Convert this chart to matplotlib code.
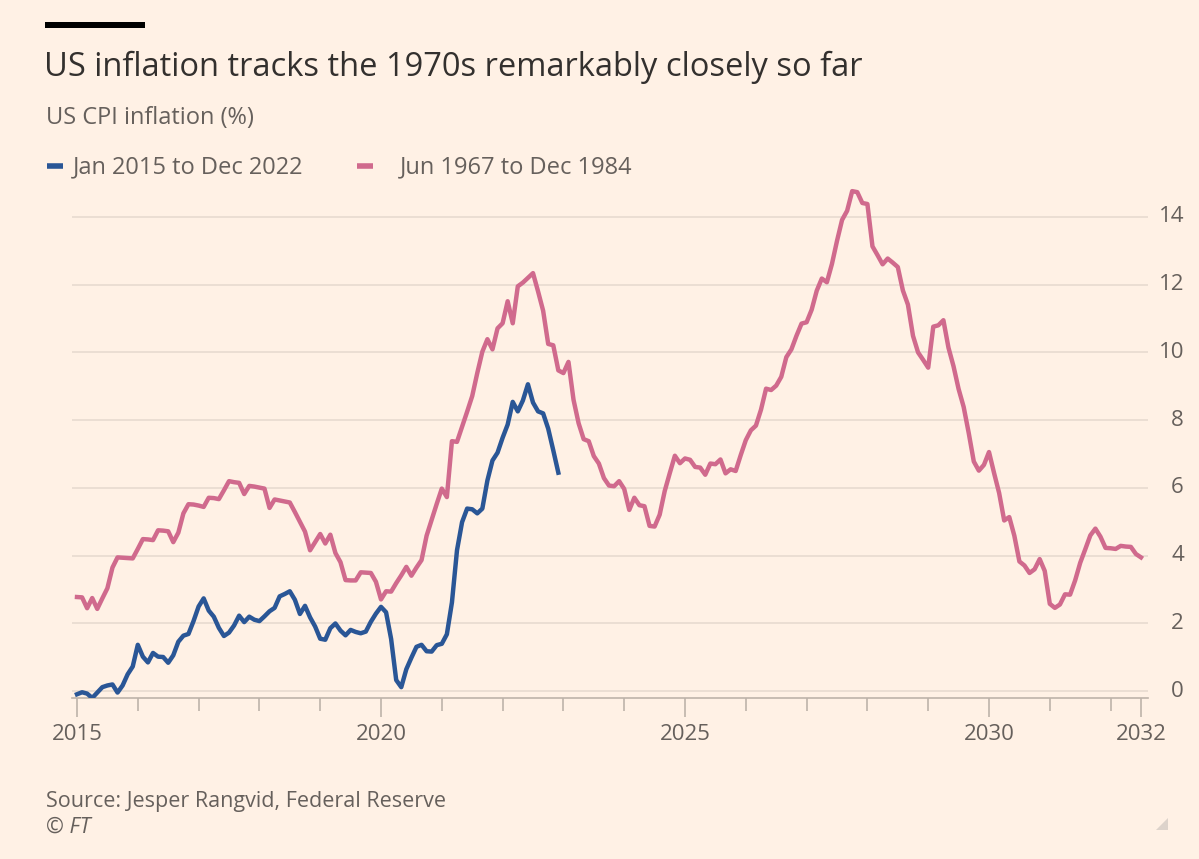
import numpy as np
import matplotlib.pyplot as plt
from matplotlib.patches import Rectangle, Polygon
from matplotlib.lines import Line2D
from matplotlib.ticker import FixedLocator

# US CPI inflation, year-on-year (%), monthly

# Jan 2015 to Dec 2022
cpi_2015_2022 = [
    -0.09, -0.03, -0.07, -0.20, -0.04, 0.12, 0.17, 0.20, -0.04, 0.17, 0.50, 0.73,   # 2015
    1.37, 1.02, 0.85, 1.13, 1.02, 1.01, 0.84, 1.06, 1.46, 1.64, 1.69, 2.07,         # 2016
    2.50, 2.74, 2.38, 2.20, 1.87, 1.63, 1.73, 1.94, 2.23, 2.04, 2.20, 2.11,         # 2017
    2.07, 2.21, 2.36, 2.46, 2.80, 2.87, 2.95, 2.70, 2.28, 2.52, 2.18, 1.91,         # 2018
    1.55, 1.52, 1.86, 2.00, 1.79, 1.65, 1.81, 1.75, 1.71, 1.76, 2.05, 2.29,         # 2019
    2.49, 2.33, 1.54, 0.33, 0.12, 0.65, 0.99, 1.31, 1.37, 1.18, 1.17, 1.36,         # 2020
    1.40, 1.68, 2.62, 4.16, 4.99, 5.39, 5.37, 5.25, 5.39, 6.22, 6.81, 7.04,         # 2021
    7.48, 7.87, 8.54, 8.26, 8.58, 9.06, 8.52, 8.26, 8.20, 7.75, 7.11, 6.45,         # 2022
]

# Jun 1967 to Dec 1984, overlaid from Jan 2015
cpi_1967_1984 = [
    2.78, 2.77, 2.45, 2.75, 2.43, 2.74, 3.04,                                       # 1967 (Jun-Dec)
    3.65, 3.95, 3.94, 3.93, 3.92, 4.20, 4.49, 4.48, 4.46, 4.75, 4.74, 4.72,         # 1968
    4.40, 4.68, 5.25, 5.52, 5.51, 5.48, 5.44, 5.71, 5.70, 5.67, 5.93, 6.20,         # 1969
    6.17, 6.15, 5.82, 6.06, 6.04, 6.01, 5.98, 5.41, 5.66, 5.63, 5.60, 5.57,         # 1970
    5.29, 5.00, 4.71, 4.16, 4.40, 4.64, 4.36, 4.62, 4.08, 3.81, 3.28, 3.27,         # 1971
    3.27, 3.51, 3.50, 3.49, 3.23, 2.71, 2.95, 2.94, 3.19, 3.42, 3.67, 3.41,         # 1972
    3.65, 3.87, 4.59, 5.06, 5.53, 5.98, 5.73, 7.38, 7.36, 7.80, 8.25, 8.71,         # 1973
    9.39, 10.02, 10.39, 10.09, 10.71, 10.86, 11.51, 10.86, 11.95, 12.06, 12.20, 12.34,  # 1974
    11.80, 11.23, 10.25, 10.21, 9.47, 9.39, 9.72, 8.60, 7.91, 7.44, 7.38, 6.94,     # 1975
    6.72, 6.29, 6.07, 6.05, 6.20, 5.97, 5.35, 5.71, 5.49, 5.46, 4.88, 4.86,         # 1976
    5.21, 5.91, 6.44, 6.95, 6.73, 6.87, 6.83, 6.62, 6.60, 6.39, 6.72, 6.70,         # 1977
    6.84, 6.43, 6.55, 6.50, 6.97, 7.41, 7.70, 7.84, 8.31, 8.93, 8.89, 9.02,         # 1978
    9.28, 9.86, 10.09, 10.49, 10.85, 10.89, 11.26, 11.82, 12.18, 12.07, 12.61, 13.29,  # 1979
    13.91, 14.18, 14.76, 14.73, 14.41, 14.38, 13.13, 12.87, 12.60, 12.77, 12.65, 12.52,  # 1980
    11.83, 11.41, 10.49, 10.00, 9.78, 9.55, 10.76, 10.80, 10.95, 10.14, 9.59, 8.92,  # 1981
    8.39, 7.62, 6.78, 6.51, 6.68, 7.06, 6.44, 5.85, 5.04, 5.14, 4.59, 3.83,         # 1982
    3.71, 3.49, 3.60, 3.90, 3.55, 2.58, 2.46, 2.56, 2.86, 2.85, 3.27, 3.79,         # 1983
    4.19, 4.60, 4.80, 4.56, 4.23, 4.22, 4.20, 4.29, 4.27, 4.26, 4.05, 3.95,         # 1984
]

series_labels = ["Jan 2015 to Dec 2022", "Jun 1967 to Dec 1984"]
year_labels = {2015: "2015", 2020: "2020", 2025: "2025", 2030: "2030", 2032.5: "2032"}
y_ticks = [0, 2, 4, 6, 8, 10, 12, 14]

BG = "#fff1e5"
BLUE = "#2a5696"
PINK = "#d06a8d"
GRID = "#e7dbd0"
AXIS = "#bdb3aa"
TXT = "#66605c"

plt.rcParams['font.family'] = ['Open Sans', 'DejaVu Sans']

W, H = 1199, 859
fig = plt.figure(figsize=(W / 100, H / 100), dpi=100, facecolor=BG)

def fx(px):
    return px / W

def fy(py):
    return 1 - py / H

# plot area in pixels
ax_l, ax_r, ax_t, ax_b = 72, 1148, 183, 698
ax = fig.add_axes([fx(ax_l), fy(ax_b), fx(ax_r) - fx(ax_l), fy(ax_t) - fy(ax_b)])
ax.set_facecolor(BG)

x_blue = 2015 + np.arange(len(cpi_2015_2022)) / 12
x_pink = 2015 + np.arange(len(cpi_1967_1984)) / 12

for y in y_ticks:
    ax.axhline(y, color=GRID, lw=1.2, zorder=0)

ax.plot(x_pink, cpi_1967_1984, color=PINK, lw=3.2, solid_joinstyle='round', zorder=2)
ax.plot(x_blue, cpi_2015_2022, color=BLUE, lw=3.2, solid_joinstyle='round', zorder=3)

ax.set_xlim(2015 - 5 / 60.8, 2015 + (ax_r - 77) / 60.8)
ax.set_ylim(-0.2, 15.0)

for s in ['top', 'left', 'right']:
    ax.spines[s].set_visible(False)
ax.spines['bottom'].set_color(AXIS)
ax.spines['bottom'].set_linewidth(1.2)

# x ticks: long ticks with labels, short ticks every year
ax.xaxis.set_major_locator(FixedLocator(list(year_labels.keys())))
ax.set_xticklabels(list(year_labels.values()))
ax.xaxis.set_minor_locator(FixedLocator(list(range(2016, 2033))))
ax.tick_params(axis='x', which='major', length=14, width=1.2, color=AXIS,
               labelsize=16, labelcolor=TXT, pad=5)
ax.tick_params(axis='x', which='minor', length=9, width=1.2, color=AXIS)

# y labels on the right, right-aligned
ax.set_yticks(y_ticks)
ax.tick_params(axis='y', length=0, labelleft=False)
label_x = (1184 - ax_l) / (ax_r - ax_l)
for y in y_ticks:
    ax.text(label_x, y, str(y), transform=ax.get_yaxis_transform(), ha='right',
            va='center', fontsize=16, color=TXT, clip_on=False)

# header
fig.add_artist(Rectangle((fx(45), fy(28)), fx(145) - fx(45), fy(22) - fy(28),
                         transform=fig.transFigure, color="#000000", lw=0))
fig.text(fx(44), fy(76), "US inflation tracks the 1970s remarkably closely so far",
         fontsize=23.5, color="#33302e", va='baseline', ha='left')
fig.text(fx(46), fy(124), "US CPI inflation (%)", fontsize=17, color=TXT,
         va='baseline', ha='left')

# legend
for (x0, x1, xt), col, lab in zip([(47, 63, 73), (357, 373, 400)], [BLUE, PINK], series_labels):
    fig.add_artist(Line2D([fx(x0), fx(x1)], [fy(166), fy(166)], transform=fig.transFigure,
                          color=col, lw=4, solid_capstyle='butt'))
    fig.text(fx(xt), fy(173), lab, fontsize=17, color=TXT, va='baseline', ha='left')

# footer
fig.text(fx(46), fy(807), "Source: Jesper Rangvid, Federal Reserve", fontsize=15.5,
         color=TXT, va='baseline', ha='left')
fig.text(fx(46), fy(833), "© FT", fontsize=15.5, color=TXT, va='baseline', ha='left',
         style='italic')
fig.add_artist(Polygon([[fx(1168), fy(818)], [fx(1168), fy(830)], [fx(1156), fy(830)]],
                       closed=True, transform=fig.transFigure, color="#ddd3cb", lw=0))

fig.savefig("out.png", dpi=100, facecolor=BG)
